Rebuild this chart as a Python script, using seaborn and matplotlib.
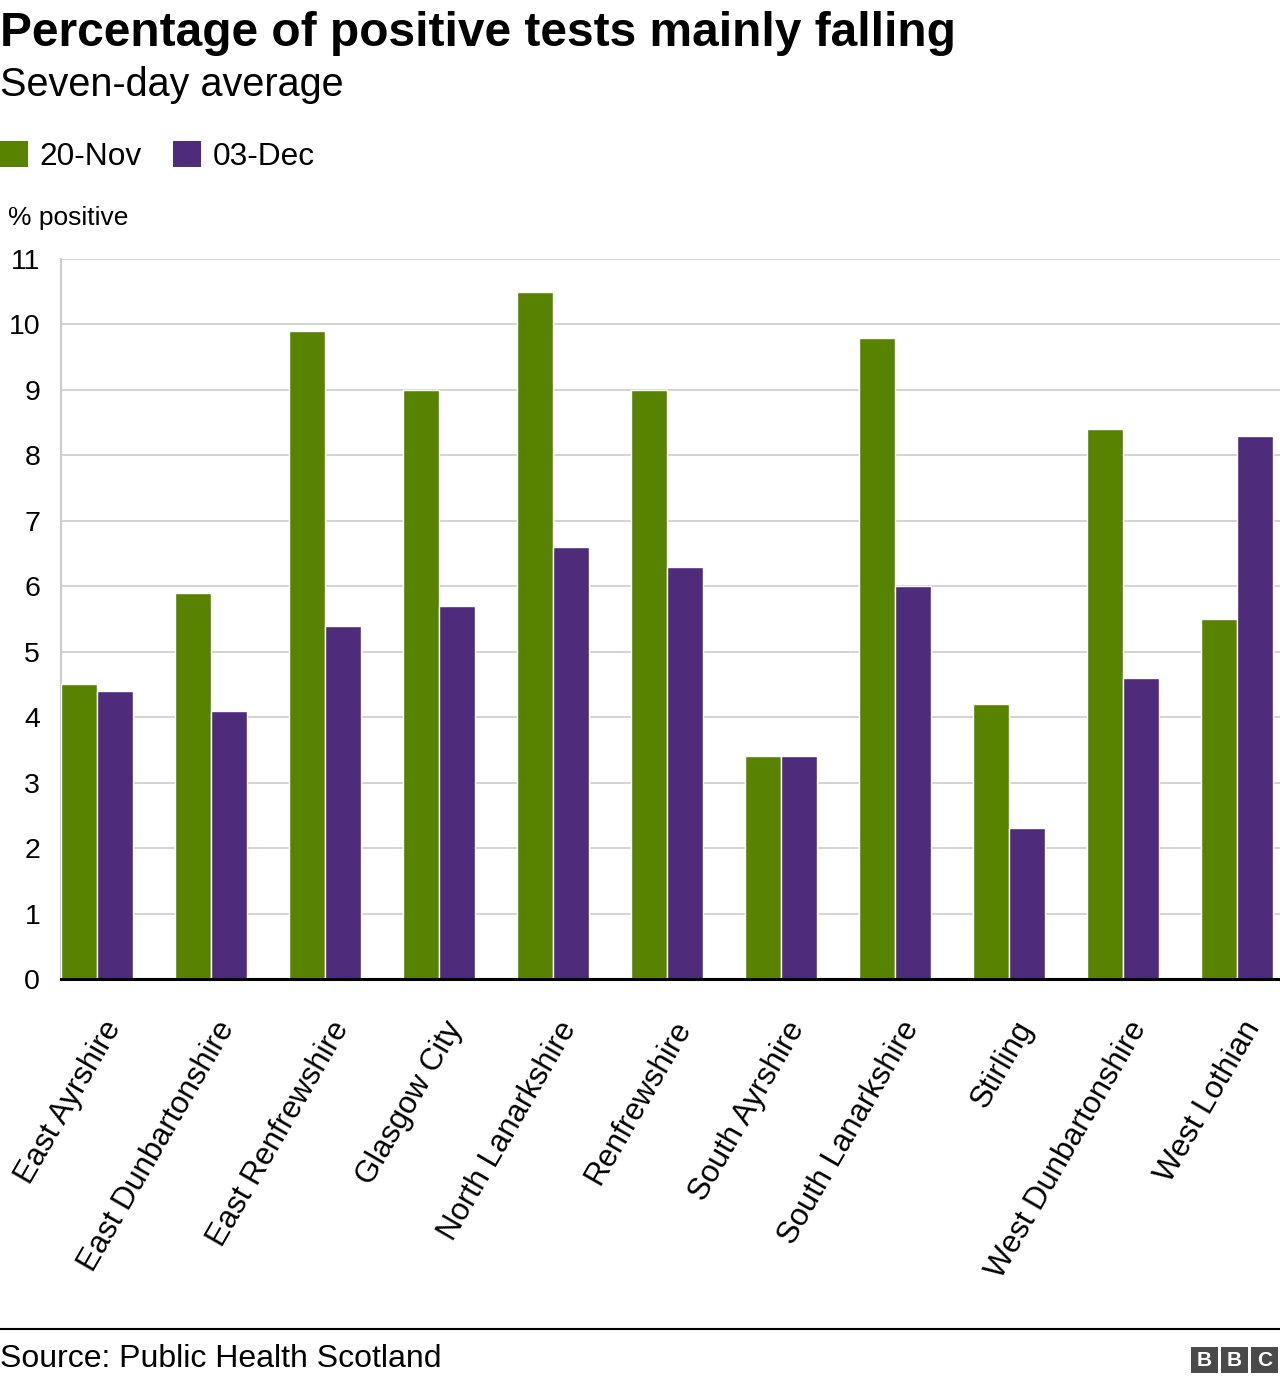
import matplotlib
matplotlib.use("Agg")
import matplotlib.pyplot as plt
import matplotlib.transforms as mtransforms
from matplotlib.patches import Rectangle, Patch
import seaborn as sns
import pandas as pd

regions = ["East Ayrshire", "East Dunbartonshire", "East Renfrewshire", "Glasgow City",
           "North Lanarkshire", "Renfrewshire", "South Ayrshire", "South Lanarkshire",
           "Stirling", "West Dunbartonshire", "West Lothian"]
nov20 = [4.5, 5.9, 9.9, 9.0, 10.5, 9.0, 3.4, 9.8, 4.2, 8.4, 5.5]
dec03 = [4.4, 4.1, 5.4, 5.7, 6.6, 6.3, 3.4, 6.0, 2.3, 4.6, 8.3]
series = ["20-Nov", "03-Dec"]
colors = ["#588300", "#4f2b7c"]
yticks = list(range(0, 12))

df = pd.DataFrame({
    "region": regions * 2,
    "date": [series[0]] * len(regions) + [series[1]] * len(regions),
    "value": nov20 + dec03,
})

sns.set_theme(style="white")
plt.rcParams["font.family"] = ["Liberation Sans", "DejaVu Sans"]
plt.rcParams["text.color"] = "#000000"

W, H = 1280, 1384
fig = plt.figure(figsize=(W / 100, H / 100), dpi=100)
ax = fig.add_axes([61 / W, 1 - 979 / H, (1280 - 61) / W, 720 / H])

sns.barplot(data=df, x="region", y="value", hue="date", hue_order=series,
            palette=colors, width=0.625, edgecolor="white", linewidth=1.0,
            saturation=1, ax=ax, legend=False, errorbar=None, zorder=3)

ax.set_xlim(-0.316, 10.377)
ax.set_ylim(0, 11)
ax.set_yticks(yticks)
ax.set_yticklabels([str(t) for t in yticks])
ax.yaxis.grid(True, color="#cccccc", linewidth=1.2, zorder=0)
ax.xaxis.grid(False)
ax.set_xlabel("")
ax.set_ylabel("")
for s in ["top", "right"]:
    ax.spines[s].set_visible(False)
ax.spines["left"].set_color("#cccccc")
ax.spines["left"].set_linewidth(1.5)
ax.spines["bottom"].set_color("#000000")
ax.spines["bottom"].set_linewidth(2.2)
ax.spines["bottom"].set_zorder(5)
ax.tick_params(axis="y", length=0, pad=15, labelsize=20.5, labelcolor="#000000")
ax.tick_params(axis="x", length=0, pad=32, labelsize=22.4, labelcolor="#000000")
offset = mtransforms.ScaledTranslation(17 / 100, 0, fig.dpi_scale_trans)
for lbl in ax.get_xticklabels():
    lbl.set_rotation(60)
    lbl.set_ha("right")
    lbl.set_va("center")
    lbl.set_rotation_mode("anchor")
    lbl.set_transform(lbl.get_transform() + offset)

fig.text(0 / W, 1 - 46 / H, "Percentage of positive tests mainly falling",
         fontsize=34.5, fontweight="bold", ha="left", va="baseline", color="#000000")
fig.text(0 / W, 1 - 96 / H, "Seven-day average", fontsize=28.5, ha="left",
         va="baseline", color="#000000")
fig.text(8 / W, 1 - 225 / H, "% positive", fontsize=19, ha="left", va="baseline",
         color="#000000")

handles = [Patch(facecolor=c, edgecolor="none") for c in colors]
leg = fig.legend(handles, series, loc="upper left", bbox_to_anchor=(0, 1 - 141 / H),
                 ncol=2, frameon=False, fontsize=22.8, handlelength=0.875,
                 handleheight=0.875, handletextpad=0.375, columnspacing=1.0,
                 borderpad=0, borderaxespad=0)
for t in leg.get_texts():
    t.set_color("#000000")

fig.add_artist(plt.Line2D([0, 1], [1 - 1329 / H, 1 - 1329 / H], color="black",
                          linewidth=1.5, transform=fig.transFigure))
fig.text(0 / W, 1 - 1367 / H, "Source: Public Health Scotland", fontsize=23,
         ha="left", va="baseline", color="#000000")
for i, letter in enumerate("BBC"):
    x0 = 1191 + i * 30
    fig.add_artist(Rectangle((x0 / W, 1 - 1373 / H), 27 / W, 26 / H,
                             transform=fig.transFigure, facecolor="#4a4a4a", edgecolor="none"))
    fig.text((x0 + 13.5) / W, 1 - 1360 / H, letter, color="white", fontsize=15,
             fontweight="bold", ha="center", va="center")

fig.savefig("out.png", dpi=100)
